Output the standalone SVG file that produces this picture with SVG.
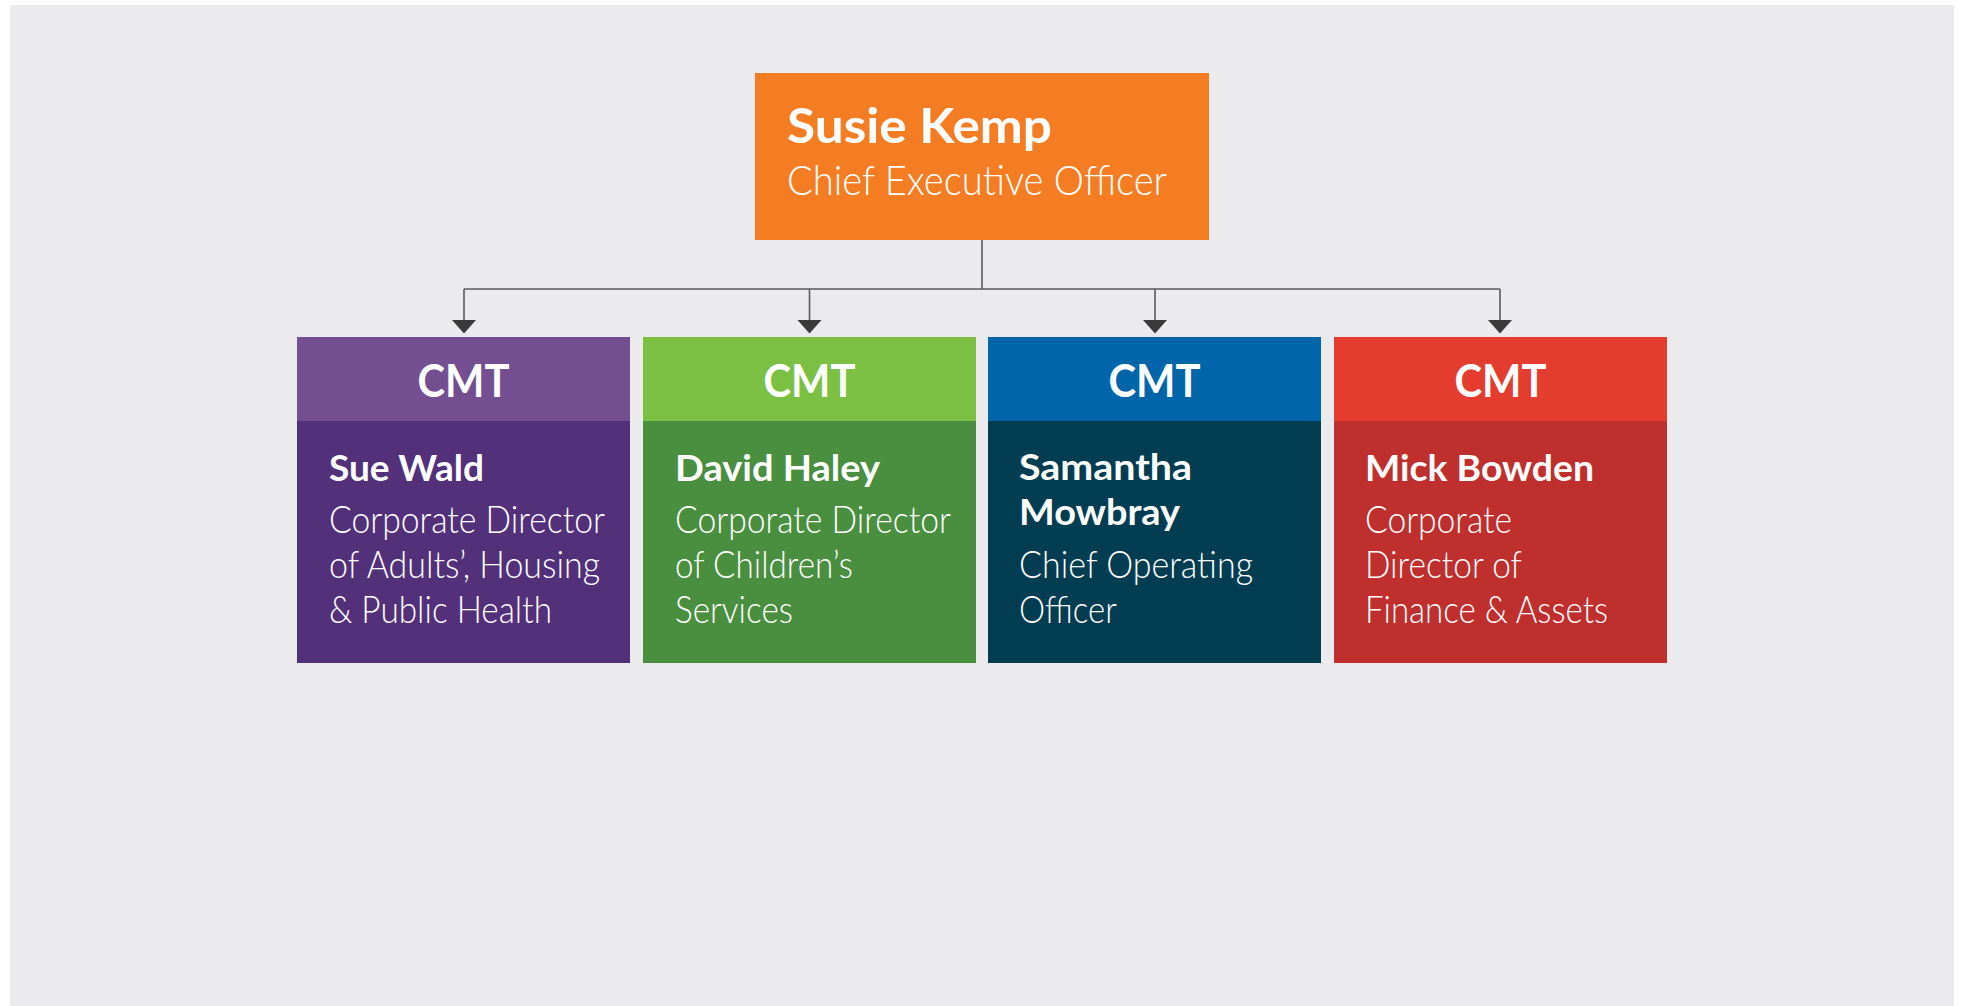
<svg xmlns="http://www.w3.org/2000/svg" width="1961" height="1006" viewBox="0 0 1961 1006">
<defs>
<style>
.bold{font-family:Lato,"Open Sans","Liberation Sans",sans-serif;font-weight:700;fill:#ffffff;}
.light{font-family:Lato,"Open Sans","Liberation Sans",sans-serif;font-weight:300;fill:#ffffff;}
.name{font-size:37px;}
.role{font-size:37px;}
.cmt{font-size:46px;}
.conn{fill:none;stroke:#5a5a5a;stroke-width:1.6;}
.head{fill:#3a3a3a;}
</style>
</defs>
<rect x="0" y="0" width="1961" height="1006" fill="#ffffff"/>
<rect x="10" y="5" width="1944" height="1001" fill="#ebebed"/>

<g id="connectors">
<path class="conn" d="M982,240 V289"/>
<path class="conn" d="M464,289 H1500"/>
<line x1="464" y1="289" x2="464" y2="320" class="conn"/>
<line x1="809.5" y1="289" x2="809.5" y2="320" class="conn"/>
<line x1="1155" y1="289" x2="1155" y2="320" class="conn"/>
<line x1="1500" y1="289" x2="1500" y2="320" class="conn"/>
<path class="head" d="M452,320 H476 L464,333.5 Z"/>
<path class="head" d="M797.5,320 H821.5 L809.5,333.5 Z"/>
<path class="head" d="M1143,320 H1167 L1155,333.5 Z"/>
<path class="head" d="M1488,320 H1512 L1500,333.5 Z"/>
</g>

<g id="ceo">
<rect x="755" y="73" width="454" height="167" fill="#f47d23"/>
<text x="787" y="143" class="bold" font-size="48" textLength="265" lengthAdjust="spacingAndGlyphs">Susie Kemp</text>
<text x="787" y="195" class="light" font-size="42" textLength="380" lengthAdjust="spacingAndGlyphs">Chief Executive Officer</text>
</g>

<g id="node-sue-wald">
<rect x="297" y="337" width="333" height="84" fill="#734f91"/>
<rect x="297" y="421" width="333" height="242" fill="#52307a"/>
<text x="463.5" y="397" class="bold cmt" text-anchor="middle" textLength="92" lengthAdjust="spacingAndGlyphs">CMT</text>
<text x="329" y="481" class="bold name" textLength="155" lengthAdjust="spacingAndGlyphs">Sue Wald</text>
<text x="329" y="533" class="light role" textLength="276" lengthAdjust="spacingAndGlyphs">Corporate Director</text>
<text x="329" y="578" class="light role" textLength="271" lengthAdjust="spacingAndGlyphs">of Adults’, Housing</text>
<text x="329" y="623" class="light role" textLength="223" lengthAdjust="spacingAndGlyphs">&amp; Public Health</text>
</g>

<g id="node-david-haley">
<rect x="643" y="337" width="333" height="84" fill="#7bc043"/>
<rect x="643" y="421" width="333" height="242" fill="#4a8e3f"/>
<text x="809.5" y="397" class="bold cmt" text-anchor="middle" textLength="92" lengthAdjust="spacingAndGlyphs">CMT</text>
<text x="675" y="481" class="bold name" textLength="205" lengthAdjust="spacingAndGlyphs">David Haley</text>
<text x="675" y="533" class="light role" textLength="276" lengthAdjust="spacingAndGlyphs">Corporate Director</text>
<text x="675" y="578" class="light role" textLength="178" lengthAdjust="spacingAndGlyphs">of Children’s</text>
<text x="675" y="623" class="light role" textLength="118" lengthAdjust="spacingAndGlyphs">Services</text>
</g>

<g id="node-samantha-mowbray">
<rect x="988" y="337" width="333" height="84" fill="#0065a9"/>
<rect x="988" y="421" width="333" height="242" fill="#023d52"/>
<text x="1154.5" y="397" class="bold cmt" text-anchor="middle" textLength="92" lengthAdjust="spacingAndGlyphs">CMT</text>
<text x="1019" y="480" class="bold name" textLength="173" lengthAdjust="spacingAndGlyphs">Samantha</text>
<text x="1019" y="525" class="bold name" textLength="161" lengthAdjust="spacingAndGlyphs">Mowbray</text>
<text x="1019" y="578" class="light role" textLength="234" lengthAdjust="spacingAndGlyphs">Chief Operating</text>
<text x="1019" y="623" class="light role" textLength="98" lengthAdjust="spacingAndGlyphs">Officer</text>
</g>

<g id="node-mick-bowden">
<rect x="1334" y="337" width="333" height="84" fill="#e43c2e"/>
<rect x="1334" y="421" width="333" height="242" fill="#be2f2e"/>
<text x="1500.5" y="397" class="bold cmt" text-anchor="middle" textLength="92" lengthAdjust="spacingAndGlyphs">CMT</text>
<text x="1365" y="481" class="bold name" textLength="229" lengthAdjust="spacingAndGlyphs">Mick Bowden</text>
<text x="1365" y="533" class="light role" textLength="147" lengthAdjust="spacingAndGlyphs">Corporate</text>
<text x="1365" y="578" class="light role" textLength="157" lengthAdjust="spacingAndGlyphs">Director of</text>
<text x="1365" y="623" class="light role" textLength="243" lengthAdjust="spacingAndGlyphs">Finance &amp; Assets</text>
</g>
</svg>
